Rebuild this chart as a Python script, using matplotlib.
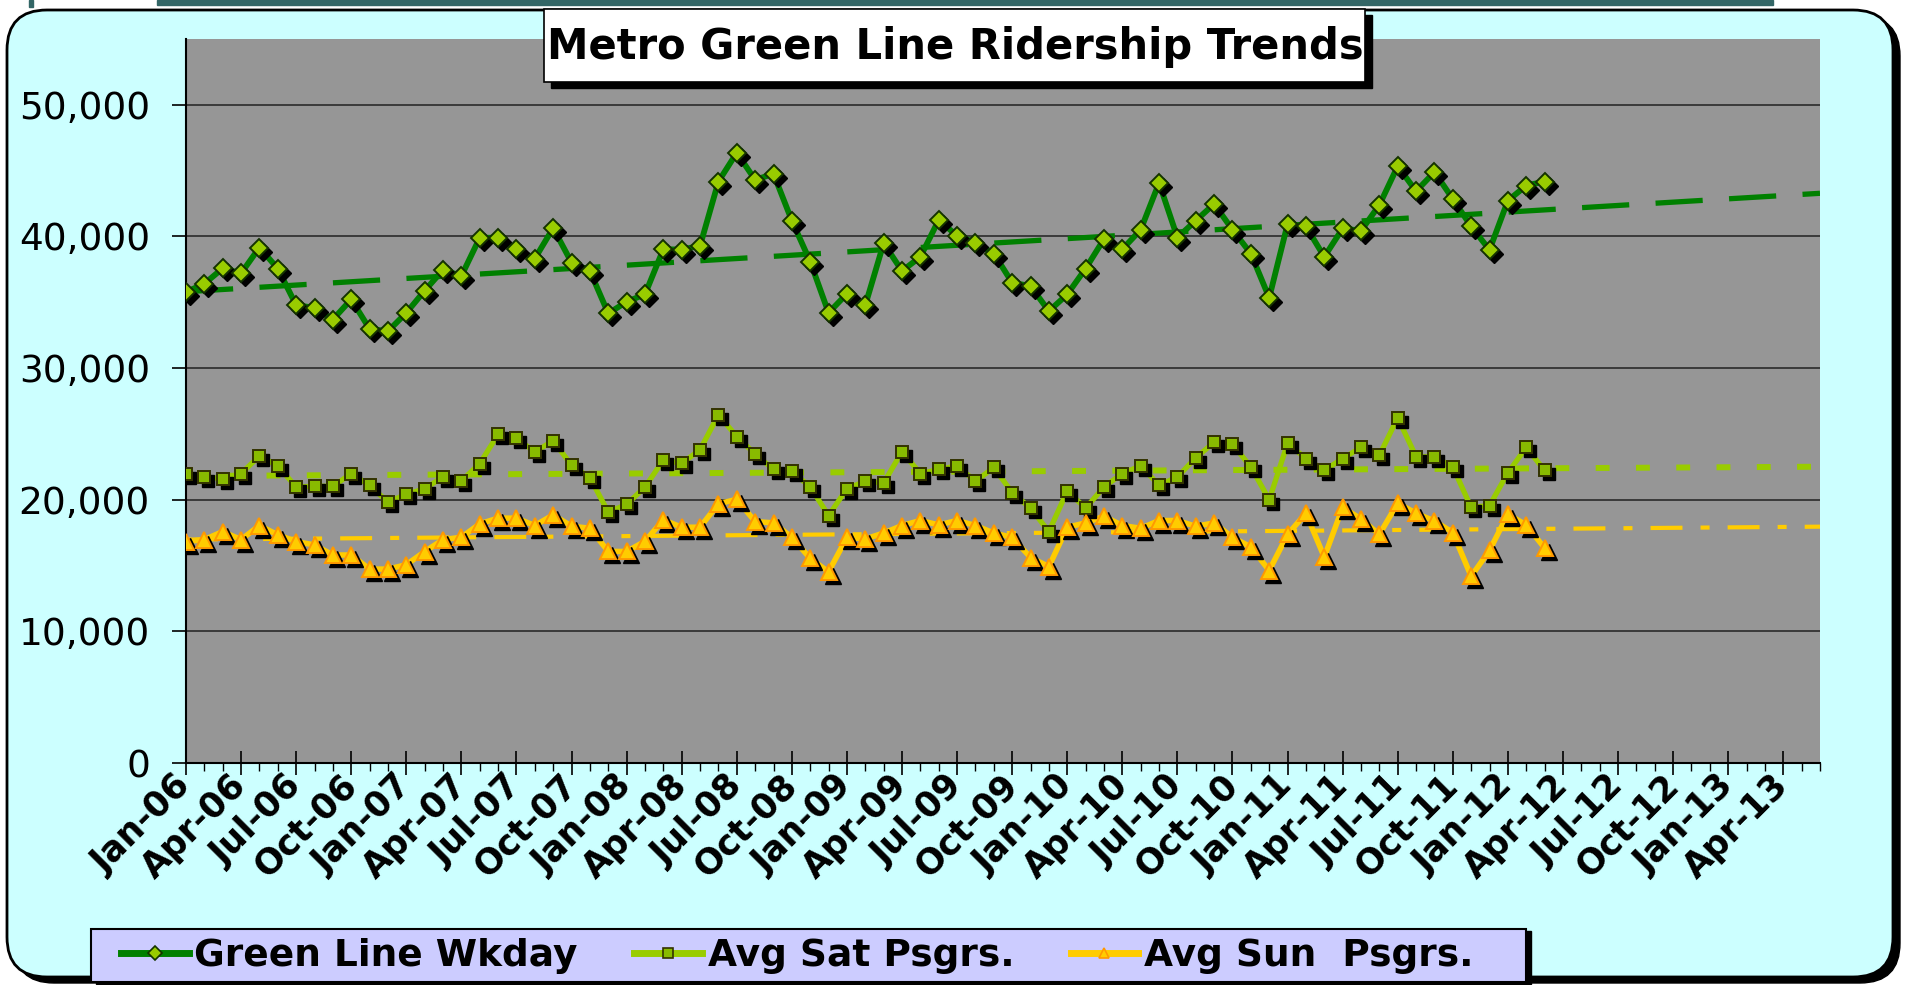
import matplotlib
matplotlib.use('Agg')
import matplotlib.pyplot as plt
import matplotlib.transforms as mtransforms
from matplotlib.patches import FancyBboxPatch, Rectangle
from matplotlib.lines import Line2D
from matplotlib.ticker import FuncFormatter
import numpy as np

plt.rcParams['lines.scale_dashes'] = False

# monthly values, Jan-06 .. Mar-12
green_wkday = [35780, 36410, 37580, 37200, 39160, 37560, 34780, 34580, 33690, 35220,
               32980, 32800, 34200, 35880, 37460, 37000, 39900, 39900, 39030, 38320,
               40640, 38020, 37380, 34150, 35040, 35600, 39030, 39000, 39290, 44170,
               46360, 44300, 44760, 41200, 38090, 34200, 35650, 34780, 39490, 37380,
               38450, 41250, 40050, 39540, 38700, 36490, 36230, 34330, 35600, 37560,
               39800, 39030, 40510, 44070, 39920, 41200, 42470, 40510, 38700, 35340,
               40940, 40760, 38450, 40610, 40430, 42390, 45340, 43440, 44890, 42850,
               40760, 38980, 42720, 43870, 44170]
avg_sat = [21985, 21730, 21600, 21985, 23330, 22570, 20970, 21020, 21020, 21985,
           21090, 19820, 20410, 20840, 21730, 21425, 22750, 24960, 24660, 23640,
           24480, 22620, 21680, 19060, 19640, 20970, 23010, 22755, 23800, 26450,
           24800, 23470, 22300, 22170, 20970, 18800, 20840, 21400, 21280, 23650,
           21990, 22300, 22580, 21400, 22450, 20540, 19360, 17580, 20660, 19360,
           20970, 21990, 22580, 21100, 21730, 23190, 24360, 24210, 22490, 20000,
           24280, 23130, 22230, 23130, 23970, 23380, 26230, 23260, 23260, 22490,
           19410, 19560, 22050, 23970, 22230]
avg_sun = [16820, 16970, 17580, 16970, 18040, 17330, 16820, 16565, 15800, 15800,
           14730, 14730, 15060, 16060, 16970, 17150, 18170, 18600, 18600, 18040,
           18850, 17990, 17830, 16070, 16070, 16840, 18470, 17910, 17910, 19690,
           20030, 18340, 18240, 17140, 15540, 14520, 17140, 17020, 17470, 18040,
           18420, 18090, 18420, 18040, 17470, 17140, 15610, 14920, 17910, 18240,
           18750, 18040, 17830, 18420, 18420, 17980, 18240, 17140, 16410, 14620,
           17360, 18970, 15640, 19410, 18540, 17360, 19740, 18970, 18380, 17510,
           14180, 16150, 18900, 18080, 16330]

# axis runs Jan-06 .. Jun-13 (90 months), labelled every 3 months
n_axis_months = 90
tick_labels = ['Jan-06', 'Apr-06', 'Jul-06', 'Oct-06', 'Jan-07', 'Apr-07', 'Jul-07', 'Oct-07',
               'Jan-08', 'Apr-08', 'Jul-08', 'Oct-08', 'Jan-09', 'Apr-09', 'Jul-09', 'Oct-09',
               'Jan-10', 'Apr-10', 'Jul-10', 'Oct-10', 'Jan-11', 'Apr-11', 'Jul-11', 'Oct-11',
               'Jan-12', 'Apr-12', 'Jul-12', 'Oct-12', 'Jan-13', 'Apr-13']
series_names = ['Green Line Wkday', 'Avg Sat Psgrs.', 'Avg Sun  Psgrs.']

W, H = 1906, 985
fig = plt.figure(figsize=(W / 100, H / 100), dpi=100, facecolor='white')
inch = fig.dpi_scale_trans

# slide bits above the chart
fig.patches.append(Rectangle((1.57, 9.80), 16.16, 0.05, transform=inch, color='#336666', zorder=-5))
fig.patches.append(Rectangle((0.29, 9.78), 0.04, 0.07, transform=inch, color='#336666', zorder=-5))

# chart frame with shadow
fig.patches.append(FancyBboxPatch((0.14, 0.02), 18.86, 9.67, boxstyle='round,pad=0,rounding_size=0.4',
                                  transform=inch, facecolor='black', edgecolor='black', zorder=-10))
fig.patches.append(FancyBboxPatch((0.07, 0.08), 18.86, 9.67, boxstyle='round,pad=0,rounding_size=0.4',
                                  transform=inch, facecolor='#CCFFFF', edgecolor='black', lw=2, zorder=-9))

ax = fig.add_axes([186 / W, 1 - 763 / H, (1820 - 186) / W, (763 - 39) / H])
ax.set_facecolor('#969696')

x = np.arange(len(green_wkday))
x_axis = np.arange(n_axis_months)

shadow = mtransforms.offset_copy(ax.transData, fig=fig, x=4, y=-4, units='dots')

series = [
    # values, line colour, line width, marker, size, face, edge, trend style, trend width
    (green_wkday, '#008000', 4.2, 'D', 9.5, '#99CC00', '#143300', (0, (34, 19)), 3.8),
    (avg_sat, '#99CC00', 3.8, 's', 9, '#88BB00', '#333300', (0, (10, 19)), 4.3),
    (avg_sun, '#FFCC00', 4.0, '^', 11, '#FFCC00', '#FF9900', (0, (23, 13, 6.5, 13)), 3.0),
]

handles = []
for vals, col, lw, mk, ms, fc, ec, tls, tlw in series:
    # linear trend over the whole axis
    coef = np.polyfit(x, vals, 1)
    ax.plot(x_axis, np.polyval(coef, x_axis), color=col, lw=tlw, linestyle=tls,
            zorder=4, dash_capstyle='butt')
    ax.plot(x, vals, color=col, lw=lw, zorder=3, solid_joinstyle='round')
    ax.plot(x, vals, linestyle='none', marker=mk, ms=ms, mfc='black', mec='black',
            transform=shadow, zorder=5)
    ax.plot(x, vals, linestyle='none', marker=mk, ms=ms, mfc=fc, mec=ec, mew=1.4, zorder=6)
    handles.append(Line2D([], [], color=col, lw=5, marker=mk, ms=7, mfc=fc, mec=ec, mew=1.2))

ax.set_xlim(0, n_axis_months - 1)
ax.set_ylim(0, 55000)
ax.set_yticks(np.arange(0, 50001, 10000))
ax.yaxis.set_major_formatter(FuncFormatter(lambda v, p: f'{v:,.0f}'))
ax.yaxis.grid(True, color='#333333', lw=1.3)
ax.set_axisbelow(True)

ax.set_xticks(x_axis[::3])
ax.set_xticks(x_axis, minor=True)
ax.set_xticklabels(tick_labels, rotation=45, ha='right', va='center',
                   rotation_mode='anchor', fontweight='bold')

ax.tick_params(axis='y', which='major', direction='out', length=10, width=1.2,
               pad=16, labelsize=27)
ax.tick_params(axis='x', which='major', direction='inout', length=17, width=1.2,
               pad=4, labelsize=25)
ax.tick_params(axis='x', which='minor', direction='out', length=6, width=1)

for s in ['top', 'right']:
    ax.spines[s].set_visible(False)
for s in ['left', 'bottom']:
    ax.spines[s].set_color('black')
    ax.spines[s].set_linewidth(1.5)

# title box with shadow
fig.patches.append(Rectangle((5.51, 9.76 - 0.73 - 0.06), 8.21, 0.73, transform=inch,
                             color='black', zorder=7))
fig.patches.append(Rectangle((5.44, 9.76 - 0.73), 8.21, 0.73, transform=inch,
                             facecolor='white', edgecolor='black', lw=1.2, zorder=8))
fig.text(955 / W, 1 - 47 / H, 'Metro Green Line Ridership Trends', ha='center', va='center',
         fontsize=30, fontweight='bold', zorder=9)

# legend box with shadow, legend entries on top
fig.patches.append(Rectangle((0.96, 0.01), 14.35, 0.53, transform=inch, color='black', zorder=7))
fig.patches.append(Rectangle((0.91, 0.03), 14.35, 0.53, transform=inch,
                             facecolor='#CCCCFF', edgecolor='black', lw=1.5, zorder=8))
leg = fig.legend(handles, series_names, loc='center left', bbox_to_anchor=(121 / W, 1 - 956 / H),
                 ncol=3, frameon=False, prop={'weight': 'bold', 'size': 27}, handlelength=1.8,
                 handletextpad=0.16, columnspacing=1.5, borderpad=0, borderaxespad=0)
leg.set_zorder(9)

fig.savefig('out.png', dpi=100, facecolor='white')
